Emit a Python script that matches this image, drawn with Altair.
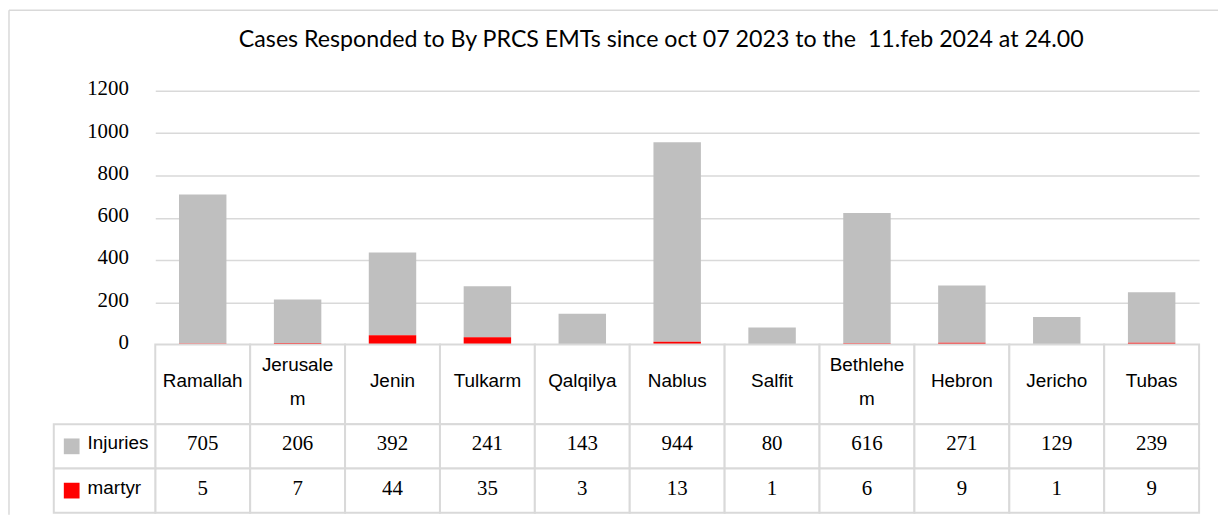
import altair as alt
import pandas as pd

# ---- data ----
categories = ["Ramallah", "Jerusalem", "Jenin", "Tulkarm", "Qalqilya", "Nablus",
              "Salfit", "Bethlehem", "Hebron", "Jericho", "Tubas"]
injuries = [705, 206, 392, 241, 143, 944, 80, 616, 271, 129, 239]
martyrs = [5, 7, 44, 35, 3, 13, 1, 6, 9, 1, 9]
series_names = ["Injuries", "martyr"]
series_colors = ["#bfbfbf", "#ff0000"]
y_ticks = [0, 200, 400, 600, 800, 1000, 1200]
title_text = "Cases Responded to By PRCS EMTs since oct 07 2023 to the \u00a011.feb 2024 at 24.00"
wrapped = {"Jerusalem": "Jerusale\nm", "Bethlehem": "Bethlehe\nm"}

# ---- layout / style constants (pixels) ----
W = 1049          # plot / table width
H_BARS = 255      # bar area height
H_HDR = 80        # table header row height
H_ROWS = 89       # two value rows
H = H_BARS + H_HDR + H_ROWS
LEG_W = 102       # legend column width (left of the plot)
GRID = "#d9d9d9"
SERIF = "Liberation Serif"
SANS = "Liberation Sans"

long = pd.DataFrame({
    "category": categories * 2,
    "series": ["Injuries"] * len(categories) + ["martyr"] * len(categories),
    "value": injuries + martyrs,
    "stackorder": [1] * len(categories) + [0] * len(categories),
})
hdr_df = pd.DataFrame({
    "category": categories,
    "label": [wrapped.get(c, c) for c in categories],
    "wrapped": [c in wrapped for c in categories],
    "row": ["header"] * len(categories),
})
leg_df = pd.DataFrame({"series": series_names, "col": ["legend"] * len(series_names)})
one = pd.DataFrame({"k": [0]})

color_scale = alt.Scale(domain=series_names, range=series_colors)

# ---- stacked bars ----
bars = alt.Chart(long).mark_bar().encode(
    x=alt.X("category:N", scale=alt.Scale(domain=categories, paddingInner=0.5, paddingOuter=0.25), axis=None),
    y=alt.Y("value:Q", stack="zero",
            scale=alt.Scale(domain=[0, 1200], nice=False, range=[H_BARS, 0]),
            axis=alt.Axis(values=y_ticks, format="d", grid=True, gridColor=GRID, gridWidth=1.5,
                          domain=False, ticks=False, labelFont=SERIF, labelFontSize=21,
                          labelColor="#000000", labelPadding=27, labelOffset=-2, title=None)),
    color=alt.Color("series:N", scale=color_scale, legend=None),
    order=alt.Order("stackorder:Q", sort="ascending"),
)

# ---- table: header row ----
x_tab = alt.X("category:N", scale=alt.Scale(domain=categories, paddingInner=0, paddingOuter=0), axis=None)
y_hdr = alt.Y("row:N", scale=alt.Scale(domain=["header"], range=[H_BARS, H_BARS + H_HDR],
                                       paddingInner=0, paddingOuter=0), axis=None)
hdr_cells = alt.Chart(hdr_df).mark_rect(fill="white", stroke=GRID, strokeWidth=2).encode(x=x_tab, y=y_hdr)
hdr_text1 = alt.Chart(hdr_df).transform_filter("!datum.wrapped").mark_text(
    font=SANS, fontSize=19, color="#000000", dy=-3).encode(x=x_tab, y=y_hdr, text="label:N")
hdr_text2 = alt.Chart(hdr_df).transform_filter("datum.wrapped").mark_text(
    font=SANS, fontSize=19, color="#000000", lineBreak="\n", lineHeight=34, dy=-19).encode(
    x=x_tab, y=y_hdr, text="label:N")

# ---- table: value rows ----
y_rows = alt.Y("series:N", scale=alt.Scale(domain=series_names, range=[H_BARS + H_HDR, H],
                                           paddingInner=0, paddingOuter=0), axis=None)
cells = alt.Chart(long).mark_rect(fill="white", stroke=GRID, strokeWidth=2).encode(x=x_tab, y=y_rows)
vals = alt.Chart(long).mark_text(font=SERIF, fontSize=21, color="#000000", dy=-2).encode(
    x=x_tab, y=y_rows, text="value:Q")

# ---- legend column of the table ----
x_leg = alt.X("col:N", scale=alt.Scale(domain=["legend"], range=[-LEG_W, 0],
                                       paddingInner=0, paddingOuter=0), axis=None)
leg_cells = alt.Chart(leg_df).mark_rect(fill="white", stroke=GRID, strokeWidth=2).encode(x=x_leg, y=y_rows)
leg_sw = alt.Chart(leg_df).mark_square(size=250, opacity=1, xOffset=-33).encode(
    x=x_leg, y=y_rows, color=alt.Color("series:N", scale=color_scale, legend=None))
leg_txt = alt.Chart(leg_df).mark_text(font=SANS, fontSize=19, color="#000000", align="left",
                                      dx=-17, dy=-3).encode(x=x_leg, y=y_rows, text="series:N")

# ---- outer frame (chart area border) ----
frame_left = alt.Chart(one).mark_rule(color=GRID, strokeWidth=1.5).encode(
    x=alt.value(-147), y=alt.value(-81), y2=alt.value(H + 2))
frame_top = alt.Chart(one).mark_rule(color=GRID, strokeWidth=1.5).encode(
    x=alt.value(-147), x2=alt.value(1068), y=alt.value(-81))

chart = alt.layer(
    frame_left, frame_top, bars, hdr_cells, hdr_text1, hdr_text2,
    cells, vals, leg_cells, leg_sw, leg_txt,
).resolve_scale(
    x="independent", y="independent", color="independent"
).properties(
    width=W, height=H, padding=0,
    title=alt.TitleParams(title_text, font="Lato", fontSize=23.3, fontWeight="normal",
                          color="#000000", anchor="middle", frame="group", offset=-61,
                          baseline="alphabetic", dx=-16),
).configure_view(stroke="transparent")

chart.save("out.html", embed_options={"renderer": "svg", "actions": False})
